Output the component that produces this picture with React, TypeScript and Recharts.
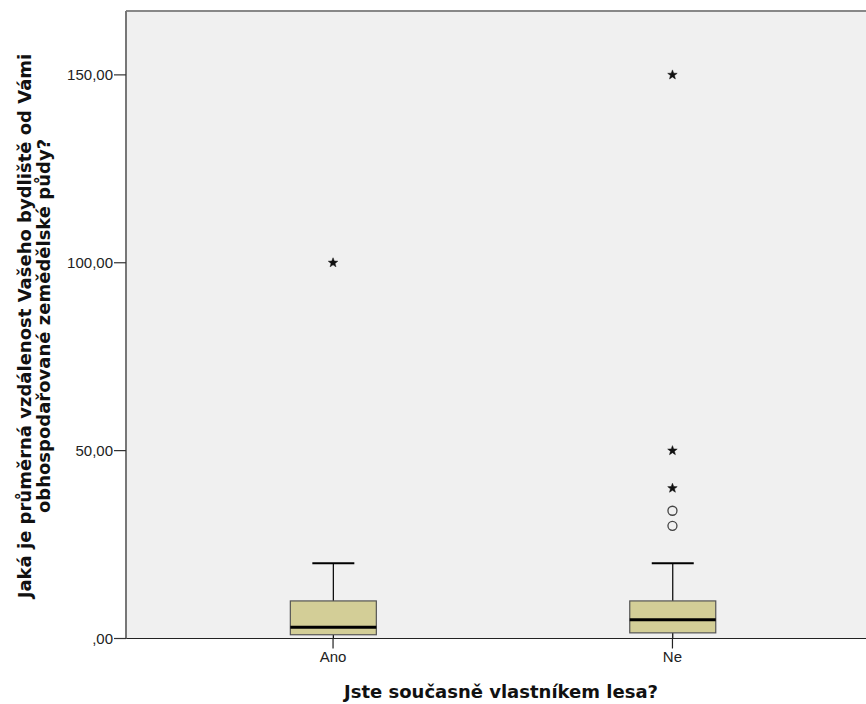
import React from 'react';
import { ComposedChart, Bar, Scatter, XAxis, YAxis, CartesianGrid, ReferenceLine } from 'recharts';

const categories = ['Ano', 'Ne'];
const categoryPos = [1, 2];
const q1Values = [1, 1.5];
const medianValues = [3, 5];
const q3Values = [10, 10];
const whiskerLowValues = [0, 0];
const whiskerHighValues = [20, 20];
const circleOutliers = [[], [30, 34]];
const starOutliers = [[100], [40, 50, 150]];
const yTicks = [0, 50, 100, 150];
const yMax = 167;

const boxData = categories.map((name, i) => ({
  x: categoryPos[i],
  name,
  box: [q1Values[i], q3Values[i]],
  q1: q1Values[i],
  median: medianValues[i],
  q3: q3Values[i],
  lo: whiskerLowValues[i],
  hi: whiskerHighValues[i],
}));

const circleData = categories.flatMap((_, i) => circleOutliers[i].map((v) => ({ x: categoryPos[i], y: v })));
const starData = categories.flatMap((_, i) => starOutliers[i].map((v) => ({ x: categoryPos[i], y: v })));

const FONT = '"Liberation Sans", Arial, sans-serif';
const BOLD_FONT = '"DejaVu Sans", sans-serif';

const BoxShape = (props: any) => {
  const { x, y, width, height, payload } = props;
  const top = Math.min(y, y + height);
  const h = Math.abs(height);
  const bottom = top + h;
  const ppu = h / (payload.q3 - payload.q1);
  const yOf = (v: number) => bottom - (v - payload.q1) * ppu;
  const cx = x + width / 2;
  const capHalf = 21;
  return (
    <g>
      <line x1={cx} x2={cx} y1={yOf(payload.hi)} y2={top} stroke="#000" strokeWidth={1.2} />
      <line x1={cx - capHalf} x2={cx + capHalf} y1={yOf(payload.hi)} y2={yOf(payload.hi)} stroke="#000" strokeWidth={2} />
      <line x1={cx} x2={cx} y1={bottom} y2={yOf(payload.lo)} stroke="#000" strokeWidth={1.2} />
      <rect x={x} y={top} width={width} height={h} fill="#d3ce97" stroke="#555" strokeWidth={1.2} />
      <line x1={x} x2={x + width} y1={yOf(payload.median)} y2={yOf(payload.median)} stroke="#000" strokeWidth={3} />
    </g>
  );
};

const CircleShape = (props: any) => {
  const { cx, cy } = props;
  return <circle cx={cx} cy={cy} r={4.5} fill="none" stroke="#444" strokeWidth={1.3} />;
};

const StarShape = (props: any) => {
  const { cx, cy } = props;
  const R = 5;
  const r = 2.1;
  const pts: string[] = [];
  for (let k = 0; k < 10; k++) {
    const ang = -Math.PI / 2 + (k * Math.PI) / 5;
    const rad = k % 2 === 0 ? R : r;
    pts.push(`${cx + rad * Math.cos(ang)},${cy + rad * Math.sin(ang)}`);
  }
  return <polygon points={pts.join(' ')} fill="#111" stroke="#111" strokeWidth={0.5} />;
};

const fmtY = (v: number) => (v === 0 ? ',00' : `${v},00`);

const YLabel = () => (
  <g>
    <text
      transform="translate(31,326) rotate(-90)"
      textAnchor="middle"
      fontFamily={BOLD_FONT}
      fontWeight="bold"
      fontSize={18}
      fill="#111"
    >
      Jaká je průměrná vzdálenost Vašeho bydliště od Vámi
    </text>
    <text
      transform="translate(50,326) rotate(-90)"
      textAnchor="middle"
      fontFamily={BOLD_FONT}
      fontWeight="bold"
      fontSize={18}
      fill="#111"
    >
      obhospodařované zemědělské půdy?
    </text>
  </g>
);

const XLabel = () => (
  <text x={501} y={698} textAnchor="middle" fontFamily={BOLD_FONT} fontWeight="bold" fontSize={18} fill="#111">
    Jste současně vlastníkem lesa?
  </text>
);

export default function App() {
  return (
    <div style={{ position: 'fixed', left: 0, top: 0, width: 866, height: 704, overflow: 'hidden', background: '#fff' }}>
      <ComposedChart
        width={900}
        height={704}
        data={boxData}
        margin={{ top: 11, right: 20.5, left: 0, bottom: 0 }}
      >
        <CartesianGrid fill="#f0f0f0" horizontal={false} vertical={false} />
        <XAxis
          dataKey="x"
          type="number"
          domain={[0.39, 2.61]}
          ticks={categoryPos}
          tickFormatter={(v: number) => categories[categoryPos.indexOf(v)] ?? ''}
          height={65.5}
          tickSize={10}
          tickMargin={3}
          axisLine={{ stroke: '#222', strokeWidth: 1.2 }}
          tickLine={{ stroke: '#222', strokeWidth: 1.2 }}
          tick={{ fontFamily: FONT, fontSize: 15, fill: '#222' }}
          allowDataOverflow
          label={<XLabel />}
        />
        <YAxis
          type="number"
          domain={[0, yMax]}
          ticks={yTicks}
          tickFormatter={fmtY}
          width={126}
          tickSize={12}
          tickMargin={1}
          axisLine={{ stroke: '#777', strokeWidth: 2 }}
          tickLine={{ stroke: '#333', strokeWidth: 1.2 }}
          tick={{ fontFamily: FONT, fontSize: 15, fill: '#222' }}
          allowDataOverflow
          label={<YLabel />}
        />
        <ReferenceLine y={yMax} stroke="#888" strokeWidth={2} />
        <Bar dataKey="box" barSize={86} shape={<BoxShape />} isAnimationActive={false} />
        <Scatter data={circleData} dataKey="y" shape={<CircleShape />} isAnimationActive={false} />
        <Scatter data={starData} dataKey="y" shape={<StarShape />} isAnimationActive={false} />
      </ComposedChart>
    </div>
  );
}
